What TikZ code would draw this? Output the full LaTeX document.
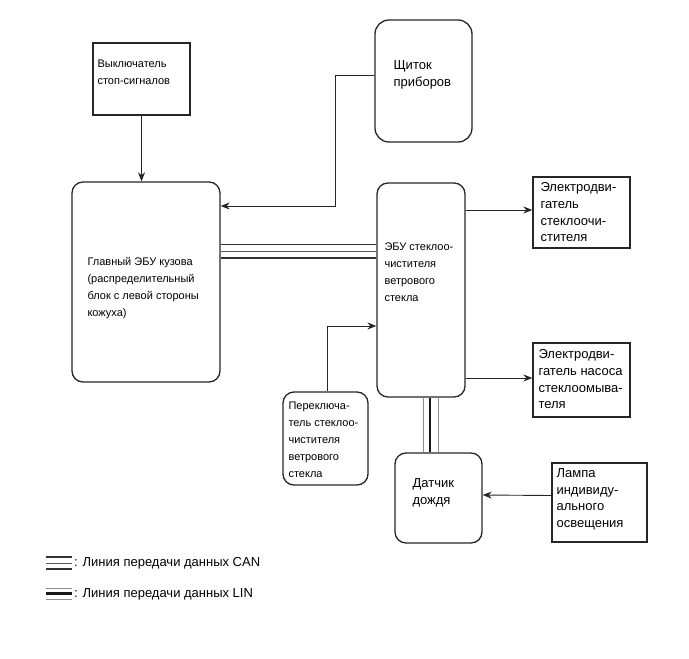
\documentclass[tikz,border=0pt]{standalone}
\usepackage{fontspec}
\setmainfont{Liberation Sans}
\usetikzlibrary{positioning,arrows.meta}

\tikzset{
	blk/.style={draw=black!85,line width=1.3pt,inner sep=0pt},
	rblk/.style={blk,rounded corners=11pt},
	lbl/.style={anchor=north west,inner sep=0pt,align=left,font=\fontsize{11}{17}\selectfont},
	biglbl/.style={lbl,font=\fontsize{13}{16.7}\selectfont},
	arr/.style={-{Stealth[length=9pt,width=7pt]},line width=0.9pt,draw=black!85},
	canout/.style={line width=1.5pt,draw=black!80},
	canmid/.style={line width=0.9pt,draw=black!65},
	linout/.style={line width=0.9pt,draw=black!45},
	linmid/.style={line width=2.6pt,draw=black!90}
}

\begin{document}
\begin{tikzpicture}[x=1pt,y=-1pt]
	\useasboundingbox (0,0) rectangle (689,659);
	% blocks
	\node[blk,minimum width=97pt,minimum height=72pt] (stop) at (141.5,79) {};
	\node[rblk,rounded corners=14pt,minimum width=97pt,minimum height=122pt] (panel) at (423.5,81) {};
	\node[rblk,minimum width=148pt,minimum height=200pt] (bcm) at (146,282) {};
	\node[rblk,minimum width=88pt,minimum height=214pt] (wecu) at (421,290) {};
	\node[blk,minimum width=97pt,minimum height=71pt] (wmot) at (581.5,212.5) {};
	\node[blk,minimum width=97pt,minimum height=74pt] (pump) at (581.5,380) {};
	\node[rblk,minimum width=85pt,minimum height=93pt] (sw) at (325.5,438.5) {};
	\node[rblk,minimum width=87pt,minimum height=90pt] (rain) at (438.5,498) {};
	\node[blk,minimum width=95pt,minimum height=79pt] (lamp) at (599.5,502.5) {};
	% texts
	\node[lbl] (stoptxt) at ([shift={(5,17.5)}]stop.north west) {Выключатель\\стоп-сигналов};
	\node[biglbl] (paneltxt) at ([shift={(19,41)}]panel.north west) {Щиток\\приборов};
	\node[lbl] (bcmtxt) at ([shift={(16,76)}]bcm.north west) {Главный ЭБУ кузова\\(распределительный\\блок с левой стороны\\кожуха)};
	\node[lbl] (wecutxt) at ([shift={(8,60)}]wecu.north west) {ЭБУ стеклоо-\\чистителя\\ветрового\\стекла};
	\node[biglbl] (wmottxt) at ([shift={(8,6)}]wmot.north west) {Электродви-\\гатель\\стеклоочи-\\стителя};
	\node[biglbl] (pumptxt) at ([shift={(6,7)}]pump.north west) {Электродви-\\гатель насоса\\стеклоомыва-\\теля};
	\node[lbl] (swtxt) at ([shift={(6,10)}]sw.north west) {Переключа-\\тель стеклоо-\\чистителя\\ветрового\\стекла};
	\node[biglbl] (raintxt) at ([shift={(18,26)}]rain.north west) {Датчик\\дождя};
	\node[biglbl] (lamptxt) at ([shift={(5,6)}]lamp.north west) {Лампа\\индивиду-\\ального\\освещения};
	% signal lines
	\coordinate (pjog) at (335,206);
	\coordinate (sjog) at (327,326);
	\draw[arr] (stop.south) -- (stop.south |- bcm.north);
	\draw[arr] ([yshift=6pt]panel.west) -| (pjog) -- (bcm.east |- pjog);
	\draw[arr] (sw.north -| sjog) -- (sjog) -- (wecu.west |- sjog);
	\draw[arr] (wecu.east |- 0,210) -- (wmot.west |- 0,210);
	\draw[arr] (wecu.east |- 0,378) -- (pump.west |- 0,378);
	\draw[arr] ([yshift=7pt]lamp.west) -- (rain.east |- 0,495);
	% CAN and LIN
	\foreach \y/\s in {244.5/canout,251.5/canmid,258/canout}
		\draw[\s] (bcm.east |- 0,\y) -- (wecu.west |- 0,\y);
	\foreach \x/\s in {423/linout,430/linmid,438/linout}
		\draw[\s] (wecu.south -| \x,0) -- (rain.north -| \x,0);
	% legend
	\foreach \y/\s in {557/canout,563/canmid,569/canout}
		\draw[\s] (46,\y) -- ++(26,0);
	\foreach \y/\s in {588/linout,593.5/linmid,599/linout}
		\draw[\s] (46,\y) -- ++(26,0);
	\node[anchor=west,inner sep=0pt,font=\fontsize{13}{15}\selectfont] (cantxt) at (74,563) {: Линия передачи данных CAN};
	\node[anchor=west,inner sep=0pt,font=\fontsize{13}{15}\selectfont] (lintxt) at (74,594) {: Линия передачи данных LIN};
\end{tikzpicture}
\end{document}
